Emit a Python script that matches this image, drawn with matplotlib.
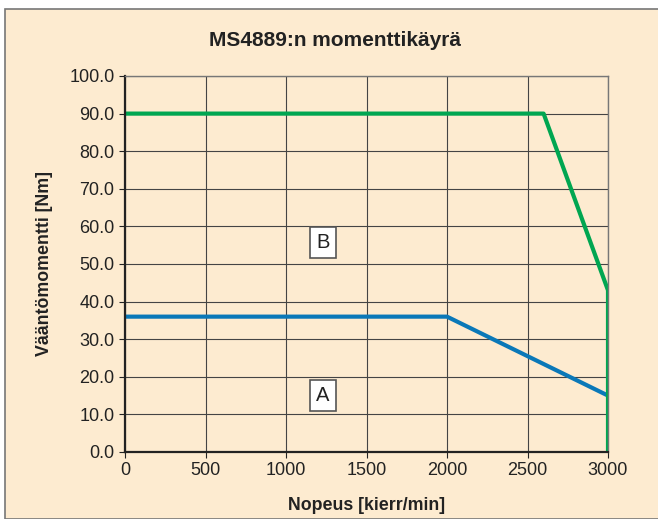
import matplotlib.pyplot as plt
from matplotlib.patches import Rectangle

# käyrien pisteet
speed_a = [0, 2000, 3000]
torque_a = [36, 36, 15]
speed_b = [0, 2600, 3000, 3000]
torque_b = [90, 90, 43, 0]

x_ticks = [0, 500, 1000, 1500, 2000, 2500, 3000]
y_ticks = [0, 10, 20, 30, 40, 50, 60, 70, 80, 90, 100]

bg = '#fdebd0'
plt.rcParams['font.family'] = ['Liberation Sans', 'DejaVu Sans']

fig = plt.figure(figsize=(6.58, 5.19), dpi=100)
fig.patch.set_facecolor('white')
# kehys
fig.patches.append(Rectangle((5 / 658, 0), 660 / 658, 1 - 9 / 519,
                             transform=fig.transFigure, facecolor=bg,
                             edgecolor='#777777', linewidth=1.2, zorder=-5))

ax = fig.add_axes([125 / 658, 1 - 452 / 519, 483 / 658, 376 / 519])
ax.set_facecolor(bg)

ax.plot(speed_a, torque_a, color='#0a78b8', linewidth=3, solid_capstyle='butt')
ax.plot(speed_b, torque_b, color='#00a651', linewidth=3, solid_capstyle='butt')

ax.set_xlim(0, 3000)
ax.set_ylim(0, 100)
ax.set_xticks(x_ticks)
ax.set_yticks(y_ticks)
ax.set_yticklabels(['{:.1f}'.format(v) for v in y_ticks])
ax.tick_params(labelsize=13, length=4, color='#222222', labelcolor='#222222')
ax.grid(True, color='#444444', linewidth=0.8)
ax.set_axisbelow(True)

for s in ['left', 'bottom']:
    ax.spines[s].set_linewidth(1.6)
    ax.spines[s].set_color('#222222')
for s in ['top', 'right']:
    ax.spines[s].set_linewidth(1)
    ax.spines[s].set_color('#777777')

box = dict(boxstyle='square,pad=0.3', facecolor='white', edgecolor='#555555', linewidth=1.2)
ax.text(1230, 55.8, 'B', fontsize=14.5, ha='center', va='center', bbox=box, color='#222222')
ax.text(1230, 15, 'A', fontsize=14.5, ha='center', va='center', bbox=box, color='#222222')

fig.text(335 / 658, 1 - 40 / 519, 'MS4889:n momenttikäyrä', fontsize=15,
         fontweight='bold', ha='center', va='center', color='#222222')
ax.set_xlabel('Nopeus [kierr/min]', fontsize=12.8, fontweight='bold',
              labelpad=13, color='#222222')
ax.set_ylabel('Vääntömomentti [Nm]', fontsize=12.8, fontweight='bold',
              labelpad=12, color='#222222')

fig.savefig('out.png', dpi=100, facecolor=fig.get_facecolor())
